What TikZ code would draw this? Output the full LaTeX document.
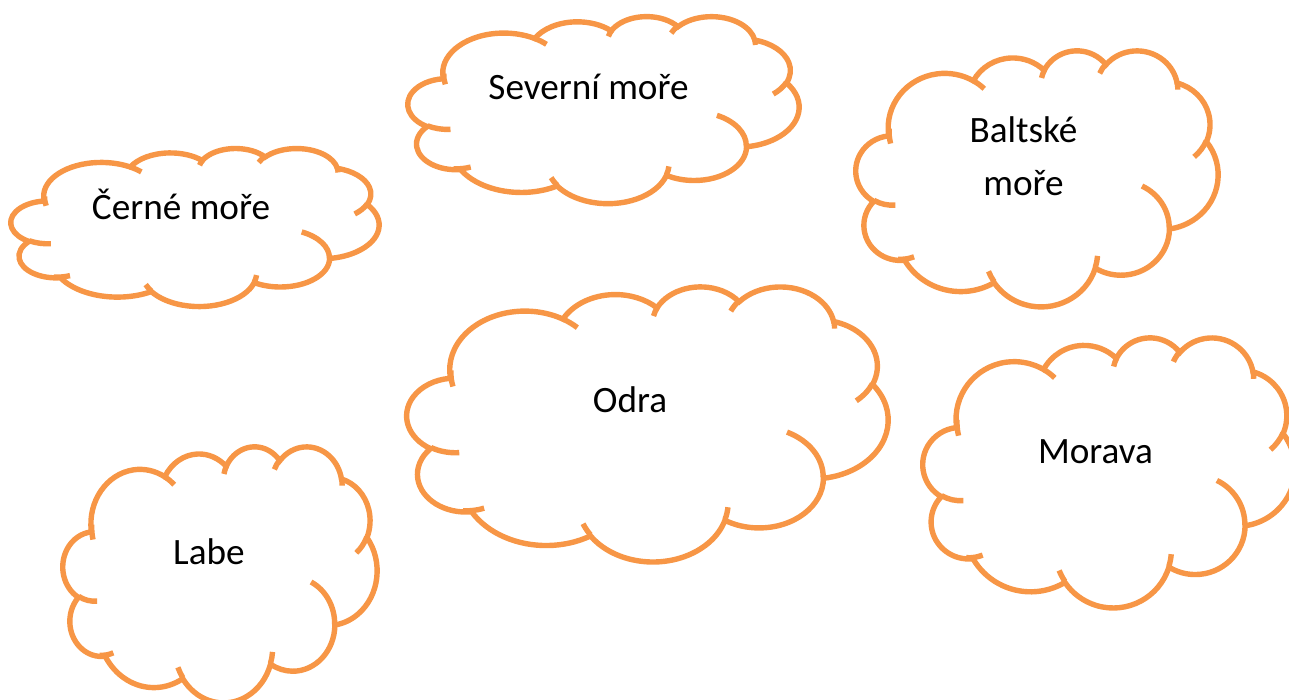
\documentclass[tikz,border=0pt]{standalone}
\usepackage{fontspec}
\setmainfont{Carlito}
\definecolor{cloudorange}{RGB}{247,150,70}
\tikzset{
  cloud line/.style={draw=cloudorange, line width=2.7pt},
  label text/.style={font=\fontsize{18.6}{26.5}\selectfont, anchor=base, align=center},
}
% arc given by radii and the angles of its start point and sweep (as in Office shapes)
\newcommand*{\oarc}[4]{arc[x radius=#1, y radius=#2, start angle={atan2(#1*sin(#3),#2*cos(#3))}, delta angle={mod(atan2(#1*sin(#3+#4),#2*cos(#3+#4))-atan2(#1*sin(#3),#2*cos(#3))+720,360)}]}
% cloud in the box (#1,#2)--(#3,#4), drawn on a 432 x 432 grid
\newcommand*{\cloudbox}[4]{%
  \begin{scope}[shift={(#1,#2)}, xscale={(#3-#1)/432}, yscale={(#4-#2)/432}]
    \path[cloud line, fill=white] (39.00,143.70)
      \oarc{67.53}{91.90}{-190.4875}{123.7805}
      \oarc{53.33}{72.67}{-144.1024}{89.9452}
      \oarc{43.65}{59.45}{-145.8079}{99.7230}
      \oarc{48.57}{65.95}{-130.9861}{117.2417}
      \oarc{53.33}{72.73}{-78.7089}{109.0269}
      \oarc{67.75}{92.20}{-46.2673}{130.2690}
      \oarc{57.85}{78.67}{0.6250}{114.0333}
      \oarc{67.52}{92.15}{22.4516}{115.1726}
      \oarc{77.20}{105.43}{66.2426}{75.7110}
      \oarc{43.60}{59.18}{-274.9421}{146.7356}
      \oarc{43.45}{59.45}{-246.8285}{152.5189} -- cycle;
    % inner arcs
    \path[cloud line]
      (46.93,261.77) \oarc{43.45}{59.45}{86.7420}{26.4295}
      (69.28,348.99) \oarc{43.60}{59.18}{73.6105}{19.1381}
      (164.78,390.90) \oarc{67.52}{92.15}{137.6242}{14.0811}
      (288.27,347.51) \oarc{67.52}{92.15}{6.4533}{15.9984}
      (341.29,229.54) \oarc{57.85}{78.67}{-70.2924}{70.9174}
      (417.98,153.54) \oarc{53.33}{72.73}{30.3180}{27.7515}
      (383.24,54.26) \oarc{48.57}{65.95}{-13.7443}{14.8589}
      (290.78,39.52) \oarc{48.57}{65.95}{-149.1815}{18.1954}
      (221.41,47.20) \oarc{43.65}{59.45}{-163.4943}{17.6864}
      (140.00,51.92) \oarc{67.53}{91.90}{-66.7070}{12.3194}
      (41.27,157.89) \oarc{67.53}{91.90}{162.0442}{21.3757};
  \end{scope}}

\begin{document}
\begin{tikzpicture}[x=0.5pt,y=-0.5pt]
  \useasboundingbox (0,0) rectangle (1289,700);

  % clouds
  \cloudbox{408}{16}{799}{203}
  \cloudbox{11}{148}{379}{306}
  \cloudbox{856}{50}{1218}{306}
  \cloudbox{407}{286}{888}{561}
  \cloudbox{63}{446}{377}{702}
  \cloudbox{923}{337}{1295}{607}

  % names
  \node[label text] (severni) at (588.5,100) {Severní moře};
  \node[label text] (cerne) at (181,220) {Černé moře};
  \node[label text] (baltske) at (1023.5,196) {Baltské\\moře};
  \node[label text] (odra) at (630,412) {Odra};
  \node[label text] (morava) at (1095.5,463) {Morava};
  \node[label text] (labe) at (209,564) {Labe};
\end{tikzpicture}
\end{document}
